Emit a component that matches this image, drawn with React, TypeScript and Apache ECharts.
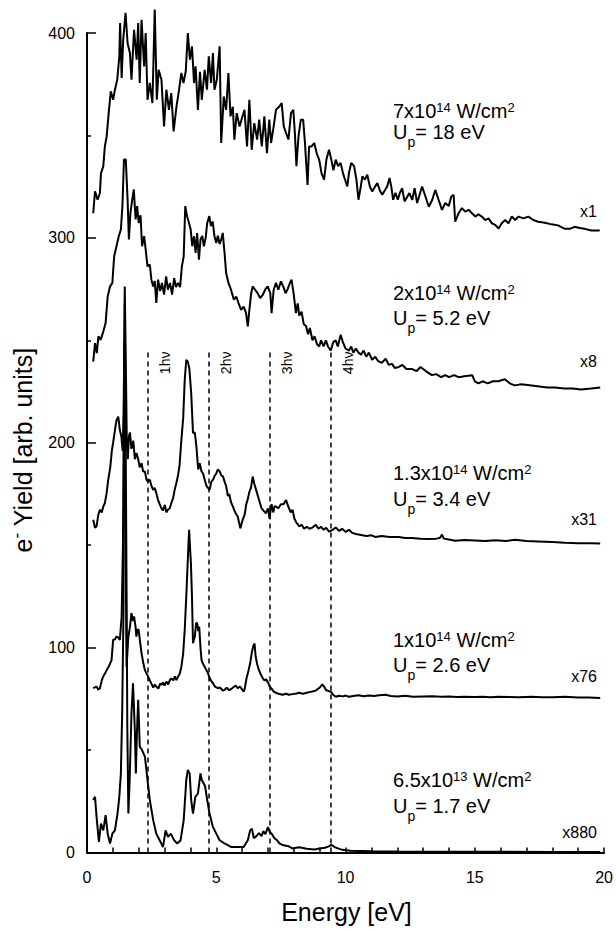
import React, { useEffect, useRef } from "react";
import * as echarts from "echarts";

type Pt = [number, number];

// Photoelectron spectra [energy (eV), yield (arb. units, scaled and offset)]
const yield7e14: Pt[] = [
  [0.24, 312], [0.31, 322.7], [0.41, 318.6], [0.5, 321.9], [0.54, 331.6], [0.63, 334.9], [0.69, 344.6], [0.76, 349.5],
  [0.85, 362.5], [0.92, 371.5], [1.01, 367.4], [1.08, 372.3], [1.17, 377.2], [1.25, 388.6], [1.28, 404.9], [1.34, 378],
  [1.4, 396.7], [1.49, 409.8], [1.57, 395], [1.66, 390.2], [1.72, 377.2], [1.82, 401.6], [1.92, 387], [1.98, 404.9],
  [2.04, 375.6], [2.11, 406.5], [2.21, 383.7], [2.27, 400], [2.34, 367.4], [2.43, 375.6], [2.53, 365.8], [2.62, 411.4],
  [2.7, 367.4], [2.77, 382], [2.88, 377.2], [2.98, 354.4], [3.07, 372.3], [3.17, 362.5], [3.26, 370.7], [3.35, 352],
  [3.46, 364], [3.56, 372.3], [3.65, 380.5], [3.73, 375.6], [3.82, 381.3], [3.9, 400], [3.98, 387], [4.06, 393.5],
  [4.14, 375.6], [4.2, 383.7], [4.29, 362.5], [4.37, 381.1], [4.44, 367.4], [4.55, 382], [4.64, 372.3], [4.71, 388.6],
  [4.8, 375.6], [4.87, 390.2], [4.93, 372.3], [5.02, 377.2], [5.13, 393.5], [5.19, 346.3], [5.29, 369], [5.38, 362.5],
  [5.47, 380.5], [5.55, 359.3], [5.64, 364], [5.7, 347.9], [5.79, 360.9], [5.9, 354.4], [5.96, 357], [6.09, 362.5],
  [6.19, 344.6], [6.28, 367.4], [6.37, 343], [6.47, 356], [6.58, 348], [6.66, 357.7], [6.76, 344.6], [6.86, 359.3],
  [6.96, 341.4], [7.05, 357.7], [7.12, 346.3], [7.22, 354.4], [7.31, 362.5], [7.44, 364.1], [7.53, 365.8], [7.61, 354.4],
  [7.7, 351.2], [7.79, 348], [7.89, 360.9], [7.98, 362.5], [8.04, 351.2], [8.1, 335], [8.18, 349.5], [8.27, 357.7],
  [8.36, 357.7], [8.43, 346.3], [8.53, 325.8], [8.59, 344.6], [8.68, 344.6], [8.79, 346.3], [8.89, 341], [8.98, 338.2],
  [9.07, 331.6], [9.17, 328.4], [9.26, 338.2], [9.36, 343], [9.45, 338.2], [9.53, 333], [9.62, 338.2], [9.71, 335],
  [9.81, 336.6], [9.9, 331.6], [9.98, 328.4], [10.07, 325.1], [10.13, 331.6], [10.22, 336.6], [10.33, 335], [10.42, 328.4],
  [10.5, 318.6], [10.59, 325.1], [10.65, 330], [10.75, 328.4], [10.84, 330.8], [10.94, 325.1], [11.03, 322.7], [11.14, 325],
  [11.23, 326.8], [11.33, 323], [11.42, 321], [11.51, 323], [11.61, 325.1], [11.7, 329.2], [11.77, 325], [11.84, 318.6],
  [11.93, 322], [12.02, 318.6], [12.1, 321.9], [12.19, 324.3], [12.28, 317.8], [12.38, 320], [12.47, 321.9], [12.58, 318.5],
  [12.67, 324.3], [12.77, 317], [12.96, 325.1], [13.09, 320.2], [13.22, 315.2], [13.35, 318.5], [13.47, 323.4], [13.6, 318.5],
  [13.73, 313.7], [13.86, 317], [13.99, 315.5], [14.09, 320.2], [14.18, 321], [14.24, 307.9], [14.37, 312], [14.5, 314.5],
  [14.63, 312.8], [14.76, 313.7], [14.89, 312], [15.02, 310.4], [15.14, 311.5], [15.27, 310.4], [15.4, 308.7], [15.53, 309.5],
  [15.66, 307.1], [15.79, 306.3], [15.92, 304.6], [16.04, 307.1], [16.17, 308.7], [16.3, 307.1], [16.43, 310.4], [16.56, 308.7],
  [16.69, 310.4], [16.88, 309.5], [17.07, 310.4], [17.26, 308.7], [17.45, 307.9], [17.71, 307.4], [17.97, 306.6], [18.22, 306.1],
  [18.48, 304.4], [18.67, 304.4], [18.86, 305.4], [19.06, 304.8], [19.25, 304.4], [19.51, 303.6], [19.83, 303.6],
];

const yield2e14: Pt[] = [
  [0.24, 239.6], [0.31, 248.6], [0.38, 243.7], [0.44, 251.9], [0.53, 250.2], [0.63, 254.3], [0.72, 258.4], [0.8, 271.4],
  [0.89, 276.3], [0.98, 278], [1.05, 291], [1.14, 295.9], [1.23, 300.8], [1.31, 304.1], [1.37, 315.5], [1.43, 338.3],
  [1.5, 338.3], [1.57, 318.7], [1.62, 299.2], [1.68, 312.2], [1.75, 318.7], [1.81, 323.6], [1.88, 309], [1.94, 315.5],
  [2.0, 307.3], [2.07, 311], [2.13, 295.9], [2.21, 300.8], [2.27, 294.3], [2.34, 286.1], [2.43, 287], [2.49, 279.6],
  [2.56, 276.3], [2.62, 279], [2.68, 268.2], [2.75, 279.6], [2.83, 274], [2.9, 278], [2.98, 272.3], [3.06, 281.2],
  [3.13, 274.7], [3.21, 278], [3.29, 272.3], [3.37, 280.4], [3.44, 276], [3.52, 278], [3.6, 276], [3.67, 286.1],
  [3.74, 291], [3.8, 315.5], [3.87, 310.6], [3.93, 308], [4.01, 304.1], [4.07, 295.9], [4.14, 300.8], [4.2, 292.7],
  [4.26, 302.4], [4.33, 289.4], [4.39, 299.2], [4.46, 301], [4.52, 295.9], [4.59, 300], [4.65, 307.3], [4.73, 310.6],
  [4.79, 305.7], [4.86, 308], [4.93, 300.8], [5.0, 297.5], [5.06, 301], [5.13, 297], [5.19, 299.2], [5.25, 302.4],
  [5.32, 292.7], [5.38, 283], [5.47, 278], [5.57, 274.7], [5.68, 269.8], [5.77, 271.4], [5.86, 268.2], [5.96, 264.9],
  [6.06, 266.5], [6.15, 263.3], [6.22, 256.8], [6.28, 264.9], [6.35, 273], [6.41, 276.3], [6.5, 274.7], [6.6, 273],
  [6.7, 270.6], [6.79, 272], [6.89, 274.7], [6.99, 276.3], [7.09, 273], [7.14, 263.3], [7.22, 274.7], [7.31, 278],
  [7.4, 274.7], [7.5, 278.8], [7.59, 276.3], [7.68, 273], [7.76, 275], [7.85, 278], [7.91, 279.6], [7.99, 273],
  [8.08, 263.3], [8.15, 268], [8.21, 262], [8.3, 264], [8.38, 258], [8.47, 257], [8.55, 253], [8.62, 256],
  [8.72, 250], [8.8, 252], [8.9, 248], [8.98, 247], [9.05, 250], [9.15, 247], [9.24, 250], [9.32, 247],
  [9.43, 245], [9.52, 249], [9.62, 250], [9.7, 247], [9.81, 252.7], [9.9, 249], [10.0, 246], [10.13, 245],
  [10.22, 247], [10.3, 244], [10.4, 246], [10.5, 244], [10.6, 243], [10.7, 245], [10.8, 242], [10.9, 244],
  [11.03, 240.5], [11.15, 242], [11.25, 240], [11.4, 239], [11.55, 241], [11.67, 238], [11.8, 238.5], [11.9, 236.5],
  [12.06, 237], [12.2, 238], [12.35, 236], [12.57, 236], [12.75, 235], [12.9, 237], [13.1, 235], [13.34, 233],
  [13.5, 233.5], [13.7, 232], [13.86, 233], [14.0, 232], [14.2, 233], [14.37, 232], [14.6, 232.5], [14.9, 233],
  [15.0, 230], [15.14, 229], [15.3, 230], [15.5, 229], [15.7, 230], [15.9, 230], [16.16, 231], [16.35, 229],
  [16.54, 228], [16.8, 228.5], [17.2, 228], [17.5, 227.5], [17.8, 227], [18.1, 227], [18.46, 226.5], [18.8, 226.5],
  [19.1, 226], [19.5, 226.5], [19.85, 227],
];

const yield1p3e14: Pt[] = [
  [0.24, 162.4], [0.31, 158.5], [0.37, 159.2], [0.44, 165], [0.5, 167.3], [0.57, 166], [0.63, 168.9], [0.69, 170.5],
  [0.76, 175.4], [0.82, 181.9], [0.9, 188], [0.96, 196], [1.01, 200], [1.08, 206], [1.14, 211], [1.21, 212.7],
  [1.27, 206.2], [1.33, 203], [1.38, 196], [1.42, 215], [1.46, 276.3], [1.5, 240], [1.54, 200], [1.58, 192],
  [1.62, 203], [1.66, 205], [1.72, 197], [1.79, 201], [1.85, 192], [1.91, 195], [1.98, 192], [2.04, 188],
  [2.11, 190], [2.17, 186], [2.24, 186], [2.3, 182], [2.36, 181], [2.43, 182], [2.49, 179], [2.56, 177],
  [2.62, 178], [2.68, 175.4], [2.75, 172], [2.81, 170], [2.88, 168], [2.94, 167], [3.01, 169.7], [3.07, 166],
  [3.13, 167.3], [3.2, 168], [3.26, 170.5], [3.33, 173], [3.39, 177], [3.45, 180], [3.52, 184], [3.58, 189],
  [3.65, 201.4], [3.72, 212], [3.78, 230.7], [3.84, 240.5], [3.9, 239.6], [3.96, 236], [4.03, 224.3], [4.1, 204.8],
  [4.17, 205], [4.23, 198.4], [4.3, 187], [4.36, 190], [4.43, 186], [4.49, 185], [4.55, 182], [4.62, 179],
  [4.68, 178], [4.74, 177], [4.81, 181], [4.88, 182], [4.94, 184], [5.0, 185], [5.06, 187], [5.13, 186],
  [5.2, 184], [5.26, 183.6], [5.32, 181], [5.38, 179], [5.45, 174], [5.5, 175], [5.57, 171], [5.64, 168.9],
  [5.7, 167], [5.77, 165], [5.83, 164], [5.9, 160], [5.93, 158.2], [6.02, 162.4], [6.1, 165], [6.16, 170],
  [6.21, 172.1], [6.28, 176], [6.34, 178], [6.41, 183.5], [6.47, 180], [6.54, 177], [6.61, 174], [6.68, 171],
  [6.75, 168], [6.82, 167], [6.92, 165.6], [7.0, 168], [7.06, 163], [7.1, 167], [7.14, 170], [7.2, 166],
  [7.26, 169], [7.31, 168.9], [7.4, 168], [7.5, 170], [7.6, 170], [7.7, 172], [7.78, 169], [7.88, 166],
  [7.95, 167.3], [8.02, 163], [8.1, 161], [8.21, 159.2], [8.3, 160], [8.4, 158], [8.5, 159], [8.6, 158],
  [8.72, 158.6], [8.85, 160], [8.95, 158], [9.05, 159], [9.15, 157.5], [9.25, 158.5], [9.36, 156.6], [9.5, 157.5],
  [9.62, 158.6], [9.75, 157], [9.87, 158], [10.0, 156.5], [10.13, 157.5], [10.26, 156], [10.4, 155.5], [10.6, 155],
  [10.8, 154.5], [11.0, 154.8], [11.16, 154], [11.4, 154.5], [11.7, 154], [12.06, 154], [12.3, 153.5], [12.57, 153.5],
  [12.9, 153.2], [13.2, 153], [13.5, 153.2], [13.65, 153.5], [13.73, 155.2], [13.8, 153.2], [14.0, 152.8], [14.24, 152.2],
  [14.6, 152.5], [15.0, 152.3], [15.4, 152], [15.8, 152.4], [16.2, 152], [16.55, 152.7], [17.0, 152], [17.45, 151.8],
  [18.0, 151.5], [18.48, 151.2], [19.0, 151], [19.5, 151], [19.85, 150.8],
];

const yield1e14: Pt[] = [
  [0.24, 80.2], [0.37, 81], [0.44, 79.5], [0.5, 80.2], [0.57, 84], [0.63, 86], [0.7, 87.5], [0.76, 89],
  [0.85, 91], [0.95, 93.9], [1.01, 103.8], [1.08, 104], [1.14, 105.4], [1.2, 105], [1.27, 103.8], [1.34, 115.2],
  [1.39, 150], [1.44, 250], [1.49, 160], [1.53, 90.5], [1.6, 105.4], [1.66, 110], [1.72, 116.8], [1.78, 113],
  [1.82, 115.2], [1.88, 110], [1.91, 105.4], [1.96, 109], [2.0, 108.6], [2.05, 103], [2.11, 97.2], [2.17, 93],
  [2.24, 89], [2.3, 87.5], [2.36, 86], [2.43, 84], [2.49, 82.4], [2.56, 80.5], [2.62, 82], [2.68, 81],
  [2.76, 80], [2.83, 82.5], [2.88, 81.8], [2.94, 83], [3.0, 81.5], [3.07, 83.4], [3.14, 82], [3.2, 84],
  [3.26, 85], [3.34, 84], [3.4, 86], [3.46, 84.2], [3.53, 86], [3.59, 87.4], [3.65, 90.7], [3.72, 97.2],
  [3.78, 108.7], [3.85, 128], [3.92, 149.3], [3.95, 157.5], [3.98, 150], [4.02, 141], [4.06, 125], [4.1, 102.1],
  [4.17, 105.4], [4.22, 112], [4.26, 112], [4.3, 108], [4.34, 110.3], [4.39, 100], [4.43, 93.9], [4.49, 92],
  [4.55, 90.7], [4.62, 89], [4.68, 87.4], [4.75, 85], [4.82, 83.5], [4.88, 82.4], [4.95, 81], [5.06, 80.2],
  [5.15, 80.5], [5.25, 79], [5.32, 79.4], [5.4, 80.5], [5.5, 79.2], [5.57, 79.7], [5.65, 80.5], [5.75, 81.5],
  [5.83, 80.2], [5.92, 81], [6.0, 79.5], [6.06, 78.5], [6.1, 80], [6.17, 85], [6.25, 89], [6.32, 93],
  [6.38, 98], [6.44, 101], [6.48, 102], [6.52, 96], [6.58, 92], [6.65, 89], [6.72, 87], [6.8, 85],
  [6.86, 84], [6.93, 84.5], [7.0, 83], [7.07, 81], [7.14, 80], [7.22, 78.5], [7.3, 78], [7.4, 77.5],
  [7.57, 77], [7.7, 77.5], [7.8, 77], [7.95, 77.3], [8.1, 77.6], [8.21, 78], [8.35, 77.5], [8.5, 78],
  [8.65, 78.4], [8.8, 78.8], [8.9, 79.5], [9.0, 80.5], [9.1, 82], [9.17, 81], [9.25, 79.2], [9.35, 78.8],
  [9.43, 78.5], [9.52, 77], [9.62, 76], [9.75, 76.5], [9.9, 76.2], [10.0, 76.6], [10.13, 76], [10.3, 76.4],
  [10.5, 76.7], [10.7, 76.3], [10.9, 76.6], [11.1, 76.4], [11.3, 76.8], [11.55, 77], [11.75, 76.4], [12.0, 76.2],
  [12.3, 76.5], [12.6, 76], [13.0, 76.2], [13.35, 76.3], [13.7, 76], [14.0, 76.1], [14.3, 75.9], [14.6, 76],
  [15.0, 75.9], [15.3, 76], [15.6, 75.8], [15.9, 76], [16.3, 75.9], [16.7, 75.8], [17.2, 76], [17.6, 75.8],
  [18.0, 75.8], [18.5, 76], [19.0, 75.6], [19.4, 75.6], [19.85, 75.4],
];

const yield6p5e13: Pt[] = [
  [0.24, 25.6], [0.31, 27.2], [0.37, 17.4], [0.46, 5.2], [0.54, 14.1], [0.63, 10.8], [0.72, 18.2], [0.8, 9.2],
  [0.89, 4.4], [0.98, 9.2], [1.08, 10.8], [1.18, 19], [1.25, 27.2], [1.31, 38.6], [1.36, 67.9], [1.41, 116.8],
  [1.46, 268], [1.52, 150], [1.56, 60], [1.6, 19], [1.65, 35.4], [1.72, 67.9], [1.78, 82.6], [1.85, 59.8],
  [1.89, 38.6], [1.93, 58.2], [1.98, 74.5], [2.04, 51.7], [2.13, 50], [2.24, 46.8], [2.34, 35.4], [2.43, 25.6],
  [2.56, 15.8], [2.68, 9.2], [2.81, 6], [2.94, 2.7], [3.04, 10.8], [3.13, 7.6], [3.24, 9.2], [3.37, 6],
  [3.49, 4.4], [3.62, 6], [3.74, 15.8], [3.84, 35.4], [3.9, 40.3], [3.97, 38.6], [4.03, 25.6], [4.1, 19],
  [4.19, 27.2], [4.29, 28.8], [4.39, 38.6], [4.44, 35.4], [4.51, 33.8], [4.57, 32.2], [4.65, 25.6], [4.74, 19],
  [4.87, 12.5], [5.0, 9.2], [5.13, 6], [5.32, 4.4], [5.57, 2.7], [5.83, 2.7], [6.06, 2.7], [6.22, 6],
  [6.31, 10.8], [6.38, 11.6], [6.45, 7], [6.55, 8], [6.65, 9.5], [6.75, 8], [6.82, 10.4], [6.9, 9],
  [7.0, 12.4], [7.07, 10], [7.15, 9], [7.25, 7], [7.35, 6], [7.44, 4.5], [7.6, 3.5], [7.8, 3],
  [7.95, 2], [8.2, 2.6], [8.5, 1.8], [8.8, 1.5], [9.0, 2], [9.2, 2.3], [9.35, 3], [9.45, 3.7],
  [9.6, 2.5], [9.87, 1.3], [10.2, 0.8], [11, 0.6], [12, 0.5], [14, 0.4], [16, 0.4], [18, 0.3], [19.85, 0.3],
];

const spectra: Pt[][] = [yield7e14, yield2e14, yield1p3e14, yield1e14, yield6p5e13];

// peak intensity (mantissa x 10^exponent W/cm^2), ponderomotive energy and plot scale factor
const intensityMantissa = ["7", "2", "1.3", "1", "6.5"];
const intensityExponent = ["14", "14", "14", "14", "13"];
const ponderomotiveEv = ["18", "5.2", "3.4", "2.6", "1.7"];
const scaleFactors = ["x1", "x8", "x31", "x76", "x880"];

// photon energy and the multiphoton orders marked by dashed lines
const PHOTON_EV = 2.36;
const photonOrders = [1, 2, 3, 4];
const ORDER_LINE_TOP = 245;
const ORDER_LABEL_Y = 239;

// annotation layout (pixels): alphabetic baselines of the two lines of each note
const NOTE_X = 393;
const NOTE_FONT = 20;
const SUP_FONT = 13;
const SUB_FONT = 14;
const intensityBase = [118, 300, 480, 647, 787];
const upBase = [139, 325, 506, 672, 813];
const scaleCenterY = [211, 361, 519, 676, 832.6];
const SCALE_RIGHT = 597;

const FONT = "Liberation Sans";

export default function App() {
  const ref = useRef<HTMLDivElement>(null);

  useEffect(() => {
    const el = ref.current;
    if (!el) return;
    const chart = echarts.init(el, undefined, { renderer: "svg" });

    const black = "#000";
    const curveSeries = spectra.map((data, i) => ({
      type: "line",
      data,
      showSymbol: false,
      symbol: "none",
      clip: false,
      silent: true,
      z: 3,
      lineStyle: { color: black, width: 2 },
      ...(i === spectra.length - 1
        ? {
            markLine: {
              silent: true,
              symbol: ["none", "none"],
              label: { show: false },
              lineStyle: { color: black, type: [5, 4], width: 1.5 },
              data: photonOrders.map((n) => [
                { coord: [n * PHOTON_EV, 0] },
                { coord: [n * PHOTON_EV, ORDER_LINE_TOP] },
              ]),
            },
          }
        : {}),
    }));

    chart.setOption({
      animation: false,
      textStyle: { fontFamily: FONT, color: black },
      grid: { left: 87, right: 10, top: 33, bottom: 76.5 },
      xAxis: {
        type: "value",
        min: 0,
        max: 20,
        interval: 5,
        axisLine: { lineStyle: { color: black, width: 2 } },
        axisTick: { inside: true, length: 5, lineStyle: { color: black, width: 1.5 } },
        minorTick: { show: true, splitNumber: 5, length: 5, lineStyle: { color: black, width: 1.5 } },
        splitLine: { show: false },
        axisLabel: { color: black, fontSize: 16, margin: 17, fontFamily: FONT },
      },
      yAxis: {
        type: "value",
        min: 0,
        max: 400,
        interval: 100,
        axisLine: { show: true, lineStyle: { color: black, width: 2 } },
        axisTick: { show: true, inside: true, length: 9, lineStyle: { color: black, width: 1.5 } },
        minorTick: { show: true, splitNumber: 2, length: 4, lineStyle: { color: black, width: 1.5 } },
        splitLine: { show: false },
        axisLabel: { color: black, fontSize: 16, margin: 12, fontFamily: FONT },
      },
      series: curveSeries,
    });

    const ctx = document.createElement("canvas").getContext("2d");
    const measure = (s: string, size: number) => {
      if (!ctx) return s.length * size * 0.55;
      ctx.font = `${size}px "${FONT}"`;
      return ctx.measureText(s).width;
    };

    const graphics: any[] = [];
    // text placed by its alphabetic baseline (central baseline is ~0.35 em above it)
    const word = (x: number, base: number, text: string, size: number, extra: any = {}) => ({
      type: "text",
      x,
      y: base - 0.35 * size,
      silent: true,
      style: {
        text,
        fontSize: size,
        lineHeight: size,
        fontFamily: FONT,
        fill: black,
        align: "left",
        verticalAlign: "middle",
        ...extra,
      },
    });

    photonOrders.forEach((n) => {
      const p = chart.convertToPixel({ gridIndex: 0 }, [n * PHOTON_EV, ORDER_LABEL_Y]) as number[];
      graphics.push({
        type: "text",
        x: p[0] + 17,
        y: p[1],
        rotation: Math.PI / 2,
        silent: true,
        style: {
          text: `${n}hν`,
          fontSize: 14,
          fontFamily: FONT,
          fill: black,
          align: "center",
          verticalAlign: "middle",
        },
      });
    });

    intensityMantissa.forEach((m, i) => {
      // first line: "m x10^e W/cm^2"
      const b1 = intensityBase[i];
      const supBase = b1 - 5.5;
      let x = NOTE_X;
      const head = `${m}x10`;
      graphics.push(word(x, b1, head, NOTE_FONT));
      x += measure(head, NOTE_FONT);
      graphics.push(word(x, supBase, intensityExponent[i], SUP_FONT));
      x += measure(intensityExponent[i], SUP_FONT);
      const unit = " W/cm";
      graphics.push(word(x, b1, unit, NOTE_FONT));
      x += measure(unit, NOTE_FONT);
      graphics.push(word(x, supBase, "2", SUP_FONT));

      // second line: "U_p= v eV"
      const b2 = upBase[i];
      let ux = NOTE_X;
      graphics.push(word(ux, b2, "U", NOTE_FONT));
      ux += measure("U", NOTE_FONT);
      graphics.push(word(ux, b2 + 8, "p", SUB_FONT));
      ux += measure("p", SUB_FONT);
      graphics.push(word(ux, b2, `= ${ponderomotiveEv[i]} eV`, NOTE_FONT));

      graphics.push({
        type: "text",
        x: SCALE_RIGHT,
        y: scaleCenterY[i],
        silent: true,
        style: {
          text: scaleFactors[i],
          fontSize: 16,
          fontFamily: FONT,
          fill: black,
          align: "right",
          verticalAlign: "middle",
        },
      });
    });

    graphics.push({
      type: "text",
      x: 346.5,
      y: 912,
      silent: true,
      style: { text: "Energy [eV]", fontSize: 25, fontFamily: FONT, fill: black, align: "center", verticalAlign: "middle" },
    });

    graphics.push({
      type: "text",
      x: 23,
      y: 450,
      rotation: Math.PI / 2,
      silent: true,
      style: {
        text: "e{sup|-} Yield [arb. units]",
        fontSize: 25,
        lineHeight: 30,
        fontFamily: FONT,
        fill: black,
        align: "center",
        verticalAlign: "middle",
        rich: { sup: { fontSize: 17, lineHeight: 20, verticalAlign: "top", fontFamily: FONT, fill: black } },
      },
    });

    chart.setOption({ graphic: graphics });

    return () => {
      chart.dispose();
    };
  }, []);

  return (
    <div
      ref={ref}
      style={{ position: "absolute", left: 0, top: 0, width: 616, height: 929, background: "#fff" }}
    />
  );
}
